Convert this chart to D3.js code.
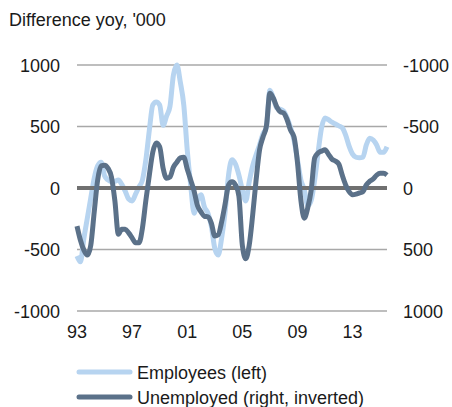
<!DOCTYPE html>
<html>
<head>
<meta charset="utf-8">
<script src="https://cdn.jsdelivr.net/npm/d3@7"></script>
<style>
  body { margin: 0; background: #fff; }
  text { font-family: "Liberation Sans", Arial, sans-serif; fill: #1a1a1a; }
</style>
</head>
<body>
<div id="chart"></div>
<script>
// quarterly, 1993 Q1 onwards
const startYear = 1993;

// change yoy in employees, '000 (left axis)
const employees = [
  -553, -600, -410, -245, -80, 80, 180, 210, 100, 65,
  50, 55, 65, 30, -25, -90, -105, -50, 10, 65,
  230, 470, 675, 700, 675, 510, 585, 665, 920, 1000,
  860, 675, 310, 25, -205, -100, -55, -155, -205, -310,
  -490, -545, -405, -195, 105, 230, 195, 105, -15, -105,
  50, 180, 270, 350, 440, 495, 795, 730, 650, 640,
  625, 570, 490, 390, 230, 65, -15, -145, -100, 65,
  290, 490, 570, 555, 535, 520, 505, 490, 430, 340,
  275, 250, 245, 250, 350, 405, 390, 350, 290, 290,
  335
];

// change yoy in unemployed, '000 (right axis, inverted)
const unemployed = [
  310, 425, 505, 545, 465, 195, -65, -180, -185, -160,
  -90, 105, 375, 335, 335, 365, 405, 445, 445, 325,
  100, -105, -290, -365, -335, -160, -80, -90, -170, -210,
  -245, -250, -155, -65, 25, 145, 195, 230, 235, 285,
  390, 380, 275, 130, -25, -50, -25, 65, 465, 575,
  465, 220, -65, -310, -415, -505, -770, -730, -660, -620,
  -610, -555, -470, -415, -210, 100, 245, 160, 15, -245,
  -285, -300, -310, -275, -235, -220, -195, -105, -25, 30,
  55, 50, 40, 30, -25, -55, -75, -105, -120, -120,
  -105
];

const yTicks = [1000, 500, 0, -500, -1000];
const xTickYears = [1993, 1997, 2001, 2005, 2009, 2013];
const xTickLabels = ['93', '97', '01', '05', '09', '13'];
const seriesNames = ['Employees (left)', 'Unemployed (right, inverted)'];
const colors = ['#b7d4f0', '#5b7189'];

const width = 452, height = 407;
const margin = { top: 65, right: 65, bottom: 96, left: 77 };
const fontSize = '18px';

const svg = d3.select('#chart').append('svg')
  .attr('width', width)
  .attr('height', height);

const x = d3.scaleLinear()
  .domain([startYear, startYear + (employees.length - 1) / 4])
  .range([margin.left, width - margin.right]);

const yLeft = d3.scaleLinear()
  .domain([-1000, 1000])
  .range([height - margin.bottom, margin.top]);

// inverted right axis
const yRight = d3.scaleLinear()
  .domain([1000, -1000])
  .range([height - margin.bottom, margin.top]);

// title
svg.append('text')
  .attr('x', 9)
  .attr('y', 26)
  .style('font-size', fontSize)
  .text("Difference yoy, '000");

// gridlines
svg.append('g')
  .selectAll('line')
  .data(yTicks.filter(d => d !== 0))
  .join('line')
  .attr('x1', margin.left)
  .attr('x2', width - margin.right)
  .attr('y1', d => yLeft(d))
  .attr('y2', d => yLeft(d))
  .attr('stroke', '#a8a8a8')
  .attr('stroke-width', 1.5);

// left axis labels
svg.append('g')
  .selectAll('text')
  .data(yTicks)
  .join('text')
  .attr('x', 60)
  .attr('y', d => yLeft(d) + 6.5)
  .attr('text-anchor', 'end')
  .style('font-size', fontSize)
  .text(d => d);

// right axis labels (same positions, inverted values)
svg.append('g')
  .selectAll('text')
  .data(yTicks)
  .join('text')
  .attr('x', 403)
  .attr('y', d => yRight(-d) + 6.5)
  .style('font-size', fontSize)
  .text(d => -d);

// x labels
svg.append('g')
  .selectAll('text')
  .data(xTickYears)
  .join('text')
  .attr('x', d => x(d))
  .attr('y', 338)
  .attr('text-anchor', 'middle')
  .style('font-size', fontSize)
  .text((d, i) => xTickLabels[i]);

const lineLeft = d3.line()
  .x((d, i) => x(startYear + i / 4))
  .y(d => yLeft(d))
  .curve(d3.curveMonotoneX);

const lineRight = d3.line()
  .x((d, i) => x(startYear + i / 4))
  .y(d => yRight(d))
  .curve(d3.curveMonotoneX);

svg.append('path')
  .datum(employees)
  .attr('d', lineLeft)
  .attr('fill', 'none')
  .attr('stroke', colors[0])
  .attr('stroke-width', 5)
  .attr('stroke-linejoin', 'round');

// zero line
svg.append('line')
  .attr('x1', margin.left)
  .attr('x2', width - margin.right)
  .attr('y1', yLeft(0))
  .attr('y2', yLeft(0))
  .attr('stroke', '#707070')
  .attr('stroke-width', 4);

svg.append('path')
  .datum(unemployed)
  .attr('d', lineRight)
  .attr('fill', 'none')
  .attr('stroke', colors[1])
  .attr('stroke-width', 5)
  .attr('stroke-linejoin', 'round');

// legend
const legend = svg.append('g')
  .selectAll('g')
  .data(seriesNames)
  .join('g')
  .attr('transform', (d, i) => `translate(0,${372 + i * 25})`);

legend.append('line')
  .attr('x1', 79)
  .attr('x2', 130)
  .attr('stroke', (d, i) => colors[i])
  .attr('stroke-width', 5)
  .attr('stroke-linecap', 'round');

legend.append('text')
  .attr('x', 137)
  .attr('y', 7)
  .style('font-size', fontSize)
  .text(d => d);
</script>
</body>
</html>
